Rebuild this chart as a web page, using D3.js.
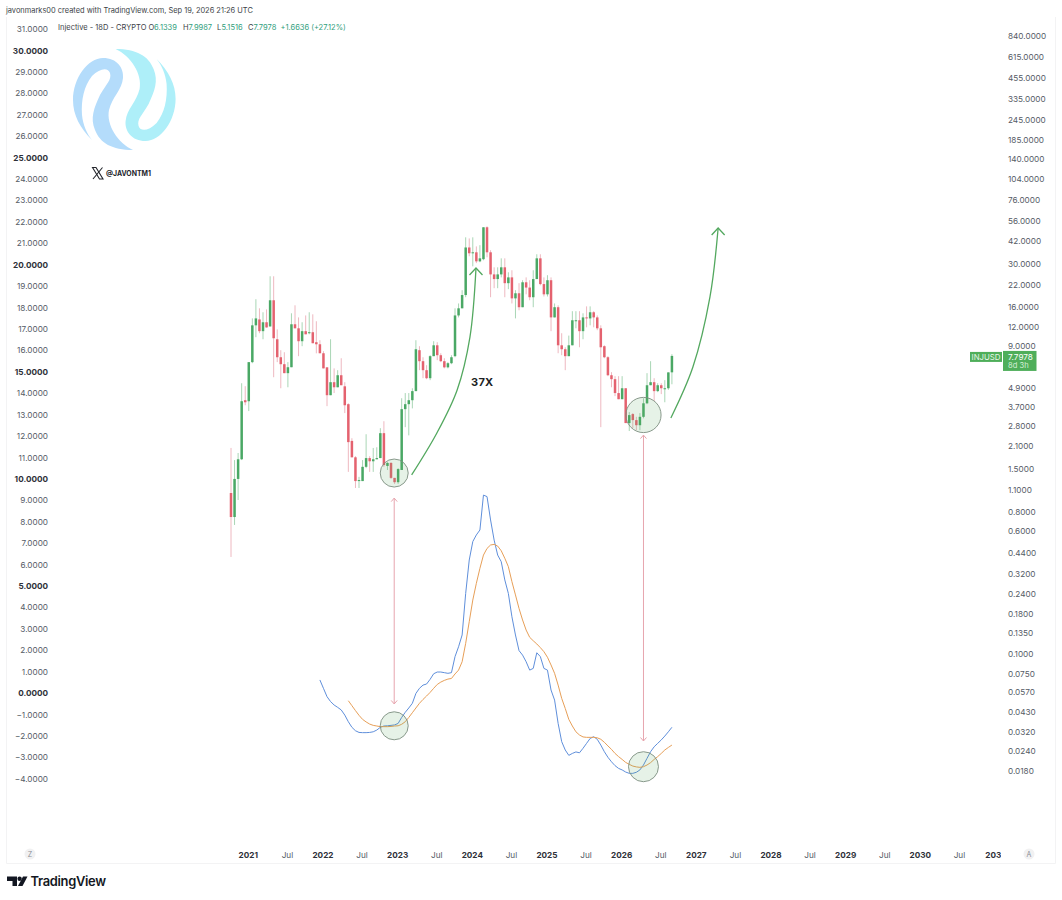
<!DOCTYPE html>
<html>
<head>
<meta charset="utf-8">
<script src="https://cdn.jsdelivr.net/npm/d3@7/dist/d3.min.js"></script>
<style>
html,body{margin:0;padding:0;background:#fff;}
svg{display:block;font-family:Inter,"Noto Sans",sans-serif;}
.axis path,.axis line{display:none;}
</style>
</head>
<body>
<svg id="chart" width="1062" height="900"></svg>
<script>
// ---------- data (18D candles, price in USD) ----------
const barOpen=[1.05,.739,1.29,1.72,4.08,4.02,7.12,12.2,13.3,11.2,12.76,12.0,17.6,9.95,7.65,6.91,6.06,6.61,12.39,11.68,
9.67,11.2,10.87,11.03,9.53,9.25,8.11,6.6,4.39,5.31,4.93,5.88,5.0,3.85,2.25,1.77,1.25,1.25,1.54,1.75,
1.67,1.72,1.75,2.52,1.56,1.63,1.31,1.23,1.47,3.58,3.85,4.08,4.66,8.48,7.22,6.33,5.63,7.77,9.11,7.88,
7.22,6.6,7.01,7.77,14.1,15.65,19.0,38.1,35.0,35.5,31.1,32.1,51.2,35.5,25.7,24.0,25.7,28.5,22.6,24.6,
18.1,19.5,15.9,22.9,21.2,18.4,24.0,32.5,22.3,19.2,23.6,13.7,15.9,9.11,8.6,7.77,9.11,12.95,13.14,11.2,
13.7,13.5,14.77,13.7,11.68,8.99,7.65,5.88,5.55,4.53,4.14,4.86,2.92,3.33,3.05,2.83,3.2,3.9,5.08,5.31,
4.66,5.08,4.8,4.86,6.1339];
const barHigh=[2.03,1.70,1.885,5.23,5.01,7.12,13.5,17.87,15.65,14.77,15.4,25.0,25.0,11.5,8.48,8.23,7.12,14.55,16.35,13.7,
12.76,14.1,14.77,14.33,12.95,9.81,8.36,6.6,9.95,6.5,6.33,7.54,5.31,3.9,2.34,1.8,1.33,1.70,2.48,1.8,
2.03,2.05,2.71,3.0,1.65,1.65,1.31,1.51,4.2,4.53,4.53,4.86,9.81,8.99,7.65,6.81,7.88,9.67,9.53,8.11,
7.54,7.12,7.88,15.65,16.8,20.4,44.2,43.5,44.2,38.7,39.4,51.2,51.9,36.6,28.5,28.5,32.5,32.5,26.5,27.3,
20.4,22.6,23.6,24.6,23.6,27.3,34.5,34.5,24.6,25.4,24.6,16.8,16.35,10.87,8.85,10.5,15.0,15.0,15.0,14.55,
16.1,16.1,15.0,14.1,12.2,9.11,7.77,6.15,5.8,5.8,5.8,4.86,3.43,3.38,3.2,3.38,4.2,6.06,7.22,5.63,
5.23,5.23,5.47,6.13,7.9987];
const barLow=[.412,.658,.948,1.70,3.79,3.48,7.01,10.25,10.87,9.95,11.8,12.0,5.71,7.12,4.86,6.06,4.93,6.61,11.68,7.77,
8.99,10.7,10.7,9.39,8.1,8.11,6.5,3.74,4.39,4.53,4.93,5.08,3.38,1.43,1.77,1.13,1.13,1.25,1.51,1.43,
1.43,1.72,1.75,1.54,1.47,1.29,1.2,1.2,1.47,2.75,2.44,3.62,4.66,6.33,5.63,5.55,5.47,7.77,7.33,7.12,
6.5,6.5,6.91,7.65,13.7,15.65,18.4,33.5,28.9,30.3,30.7,31.6,33.0,18.4,21.0,21.0,24.6,18.4,20.7,16.8,
13.5,15.2,15.9,19.2,17.6,15.9,24.0,21.9,18.6,18.6,11.2,13.7,8.11,7.88,6.33,7.77,9.11,11.68,8.85,9.95,
11.85,12.2,11.85,11.36,2.75,7.54,5.8,4.93,4.33,4.14,4.14,2.92,2.6,2.71,2.63,2.63,3.13,3.85,5.08,4.02,
4.59,4.46,3.96,4.75,5.1516];
const barClose=[.739,1.29,1.72,4.02,3.96,7.12,12.2,13.5,11.2,12.76,11.83,17.6,10.1,7.65,6.91,6.06,6.61,12.39,11.68,9.67,
11.2,10.7,11.03,9.39,9.25,8.11,6.5,4.39,5.31,4.93,5.88,5.08,3.79,2.21,1.77,1.25,1.27,1.54,1.75,1.67,
1.72,1.75,2.52,1.58,1.63,1.31,1.23,1.49,3.58,3.85,4.08,4.66,8.6,7.22,6.33,5.63,7.77,9.11,7.88,7.22,
6.6,7.01,7.65,14.1,15.65,19.0,38.1,35.0,35.5,31.1,32.5,51.2,35.5,25.7,24.0,25.7,28.5,22.6,24.6,18.1,
19.5,15.9,22.9,21.2,18.4,24.0,32.5,22.3,19.2,23.6,13.7,15.9,9.11,8.6,7.77,9.11,13.14,13.14,11.2,13.7,
13.5,14.77,13.7,11.68,8.85,7.65,5.88,5.55,4.53,4.14,4.86,2.92,3.28,3.05,2.83,3.2,3.9,5.08,5.31,4.66,
5.08,4.86,4.86,6.13,7.7978];

// oscillator, read against the left scale; first value sits on bar 25 / bar 33
const blueStartBar=25;
const blueLine=[.61,.22,-.17,-.40,-.56,-.67,-.79,-1.03,-1.34,-1.60,-1.76,-1.84,-1.85,-1.85,-1.84,-1.81,-1.73,-1.60,-1.54,-1.53,
-1.51,-1.49,-1.42,-1.14,-.90,-.70,-.48,-.02,.22,.37,.42,.64,.90,.98,.98,.95,.92,.95,1.70,2.16,
2.71,4.65,6.21,7.07,7.38,7.61,9.24,9.17,8.08,7.14,6.44,6.13,5.28,4.65,3.56,2.71,1.98,1.77,1.46,1.07,
1.15,1.88,1.70,1.15,1.07,.14,-.33,-1.42,-2.27,-2.66,-2.91,-2.82,-2.75,-2.79,-2.58,-2.35,-2.12,-2.04,-2.16,-2.43,
-2.74,-3.00,-3.21,-3.39,-3.52,-3.59,-3.69,-3.75,-3.75,-3.70,-3.59,-3.36,-3.05,-2.74,-2.51,-2.35,-2.19,-2.01,-1.81,-1.60];
const orangeStartBar=33;
const orangeLine=[-.36,-.59,-.82,-1.04,-1.23,-1.35,-1.45,-1.51,-1.54,-1.57,-1.57,-1.57,-1.56,-1.54,-1.53,-1.46,-1.34,-1.14,-.92,-.70,
-.48,-.30,-.14,.03,.22,.40,.51,.59,.65,.68,.89,1.07,1.46,2.32,3.33,4.34,5.12,5.82,6.44,6.75,
6.91,6.94,6.86,6.64,6.29,5.90,5.20,4.58,3.95,3.41,2.94,2.60,2.44,2.29,2.12,1.93,1.67,1.31,.92,.37,
-.25,-.72,-1.23,-1.54,-1.81,-1.96,-2.05,-2.07,-2.07,-2.07,-2.09,-2.16,-2.30,-2.47,-2.63,-2.82,-2.97,-3.10,-3.24,-3.33,
-3.41,-3.45,-3.47,-3.44,-3.36,-3.25,-3.10,-2.97,-2.82,-2.66,-2.54,-2.43];

// axes
const leftTicks=d3.range(-4,32);
const rightTicks=[840,615,455,335,245,185,140,104,76,56,42,30,22,16,12,9,4.9,3.7,2.8,2.1,1.5,1.1,.8,.6,.44,.32,.24,.18,.135,.1,.075,.057,.043,.032,.024,.018];
const yearLabels=["2021","2022","2023","2024","2025","2026","2027","2028","2029","2030","2031"];
const yearBars=[5,26,47,68,89,110,131,152,173,194,215];
const julBars=[16,37,58,79,100,121,142,163,184,205];

// annotations, in [bar, left-scale value]
const circles=[[45.9,10.27,14],[116,12.98,17.6],[45.9,-1.53,14],[116,-3.44,15]];
const pinkArrows=[[45.9,9.10,-.51],[116,12.04,-2.24]];
const greenArrowA=[[50.8,10.18],[57.9,12.14],[63.6,14.15],[67.2,16.62],[68.9,19.84]];
const greenArrowB=[[123.7,12.84],[129.9,15.22],[134.7,18.49],[137,21.71]];
const lastPrice=7.7978;

// ---------- scales ----------
const x=d3.scaleLinear().domain([0,215]).range([231,995.5]);
const yL=d3.scaleLinear().domain([-4,31]).range([778.7,29]);
const yR=d3.scaleLog().domain([.018,840]).range([771,36]);

const svg=d3.select("#chart");
const GREEN="#4aa865",RED="#e4626f",INK="#555b66";

// frame
svg.append("path").attr("d","M6.5 17V863.5H1055.5V17").attr("fill","none").attr("stroke","#f3f3f4");

// header
svg.append("text").attr("x",6).attr("y",13).attr("font-size",7.45).attr("fill","#3c3f47")
  .text("javonmarks00 created with TradingView.com, Sep 19, 2026 21:26 UTC");

const legend=svg.append("text").attr("y",30).attr("font-size",7.5).attr("fill","#3c3f47");
const VAL="#2f9e7c";
[["Injective - 18D - CRYPTO",58,null],["O",148.5,null],["6.1339",154,VAL],["H",183,null],["7.9987",188.5,VAL],
 ["L",217,null],["5.1516",221.5,VAL],["C",248,null],["7.7978",253.5,VAL],["+1.6636 (+27.12%)",280.5,VAL]]
 .forEach(d=>{legend.append("tspan").attr("x",d[1]).attr("fill",d[2]||"#3c3f47").text(d[0]);});

// left axis
const gL=svg.append("g").attr("class","axis").attr("transform","translate(48,0)")
  .call(d3.axisLeft(yL).tickValues(leftTicks).tickSize(0).tickPadding(0)
    .tickFormat(d=>(d<0?"−":"")+Math.abs(d).toFixed(4)));
gL.selectAll("text").attr("font-family","Inter,sans-serif").attr("font-size",8.2)
  .attr("fill",d=>d%5===0?"#2d3038":INK).attr("font-weight",d=>d%5===0?700:400);

// right axis
const gR=svg.append("g").attr("class","axis").attr("transform","translate(1008,0)")
  .call(d3.axisRight(yR).tickValues(rightTicks).tickSize(0).tickPadding(0)
    .tickFormat(d=>d.toFixed(4)));
gR.selectAll("text").attr("font-family","Inter,sans-serif").attr("font-size",8.2).attr("fill",INK);

// time axis
svg.append("clipPath").attr("id","tclip").append("rect").attr("x",0).attr("y",840).attr("width",1001).attr("height",30);
const gT=svg.append("g").attr("clip-path","url(#tclip)");
const gTY=gT.append("g").attr("class","axis").attr("transform","translate(-1,852)")
  .call(d3.axisBottom(x).tickValues(yearBars).tickSize(0).tickPadding(0).tickFormat((d,i)=>yearLabels[i]));
gTY.selectAll("text").attr("font-family","Inter,sans-serif").attr("font-size",8.2).attr("font-weight",700).attr("fill","#2d3038");
const gTJ=gT.append("g").attr("class","axis").attr("transform","translate(-1,852)")
  .call(d3.axisBottom(x).tickValues(julBars).tickSize(0).tickPadding(0).tickFormat(()=> "Jul"));
gTJ.selectAll("text").attr("font-family","Inter,sans-serif").attr("font-size",8.2).attr("fill",INK);

[["Z",30],["A",1029]].forEach(d=>{
  svg.append("circle").attr("cx",d[1]).attr("cy",854).attr("r",5.5).attr("fill","#f1f1f2");
  svg.append("text").attr("x",d[1]).attr("y",856.5).attr("text-anchor","middle").attr("font-size",7).attr("fill","#8a8d94").text(d[0]);
});

// logo
const LOGO="M92 140C80 128 73 115 73 100C73 78 88 58 103 58C117 58 124 68 123 78C122 90 112 97 109 110C106 125 118 143 133 150C112 150 100 143 95 130C90 118 94 108 100 95C106 84 112 80 110 73C108 67 100 68 92 76C84 86 81 100 82 115C83 125 87 134 92 140Z";
svg.append("path").attr("d",LOGO).attr("fill","#b4dcfb");
svg.append("path").attr("d",LOGO).attr("fill","#aeeff9").attr("transform","rotate(180 124.3 99.5)");

// X mark and handle
svg.append("path").attr("d","M92.5 167.5L99.5 179H103L96 167.5Z").attr("fill","none").attr("stroke","#23252b").attr("stroke-width",1.1);
svg.append("path").attr("d","M102.5 167.5L93 179").attr("fill","none").attr("stroke","#23252b").attr("stroke-width",1.1);
svg.append("text").attr("x",106).attr("y",176).attr("font-size",6.9).attr("font-weight",700).attr("fill","#23252b").text("@JAVONTM1");

// candles
const bars=svg.append("g").selectAll("g").data(barClose.map((c,i)=>({i,o:barOpen[i],h:barHigh[i],l:barLow[i],c}))).join("g");
bars.append("line").attr("x1",d=>x(d.i)).attr("x2",d=>x(d.i))
  .attr("y1",d=>yR(d.h)).attr("y2",d=>yR(d.l))
  .attr("stroke",d=>d.c>=d.o?"#a9d6b5":"#eeb8c0").attr("stroke-width",1);
bars.append("rect").attr("x",d=>x(d.i)-1.25).attr("width",2.5)
  .attr("y",d=>Math.min(yR(d.o),yR(d.c)))
  .attr("height",d=>Math.max(1,Math.abs(yR(d.o)-yR(d.c))))
  .attr("fill",d=>d.c>=d.o?GREEN:RED);

// oscillator lines
const line=d3.line().x(d=>x(d[0])).y(d=>yL(d[1]));
svg.append("path").attr("d",line(blueLine.map((v,i)=>[blueStartBar+i,v]))).attr("fill","none").attr("stroke","#5f8fdb").attr("stroke-width",1);
svg.append("path").attr("d",line(orangeLine.map((v,i)=>[orangeStartBar+i,v]))).attr("fill","none").attr("stroke","#e79f58").attr("stroke-width",1);

// circles
svg.append("g").selectAll("circle").data(circles).join("circle")
  .attr("cx",d=>x(d[0])).attr("cy",d=>yL(d[1])).attr("r",d=>d[2])
  .attr("fill","rgba(86,170,96,.15)").attr("stroke","#7d8f80").attr("stroke-width",.9);

// pink double arrows
const pink=svg.append("g").attr("fill","none").attr("stroke","#e7a5ae").attr("stroke-width",1);
pinkArrows.forEach(d=>{
  const px=x(d[0]),a=yL(d[1]),b=yL(d[2]);
  pink.append("path").attr("d",`M${px} ${a}V${b}M${px-3} ${a+3.5}L${px} ${a}L${px+3} ${a+3.5}M${px-3} ${b-3.5}L${px} ${b}L${px+3} ${b-3.5}`);
});

// green curved arrows
const curve=d3.line().x(d=>x(d[0])).y(d=>yL(d[1])).curve(d3.curveCatmullRom);
[greenArrowA,greenArrowB].forEach(pts=>{
  svg.append("path").attr("d",curve(pts)).attr("fill","none").attr("stroke","#53a85f").attr("stroke-width",1.3);
  const t=pts[pts.length-1],px=x(t[0]),py=yL(t[1]);
  svg.append("path").attr("d",`M${px-6.5} ${py+7}L${px} ${py}L${px+6.5} ${py+7}`).attr("fill","none").attr("stroke","#53a85f").attr("stroke-width",1.3);
});

svg.append("text").attr("x",471).attr("y",386).attr("font-size",11).attr("font-weight",700).attr("letter-spacing",.3).attr("fill","#1d1f25").text("37X");

// price badge
const by=yR(lastPrice);
svg.append("rect").attr("x",970).attr("y",by-4).attr("width",32).attr("height",10).attr("fill","#4fae5a");
svg.append("rect").attr("x",1003).attr("y",by-5).attr("width",33.5).attr("height",20).attr("fill","#4fae5a");
svg.append("text").attr("x",986).attr("y",by+3.8).attr("text-anchor","middle").attr("font-size",7.8).attr("fill","#e6f5e8").text("INJUSD");
svg.append("text").attr("x",1008).attr("y",by+3.8).attr("font-size",8.2).attr("fill","#fff").text(lastPrice.toFixed(4));
svg.append("text").attr("x",1008).attr("y",by+12.5).attr("font-size",7.6).attr("fill","#d5eed8").text("8d 3h");

// TradingView mark
svg.append("path").attr("d","M7 876.5H17V886H12.5V881H7Z").attr("fill","#131722");
svg.append("circle").attr("cx",19.6).attr("cy",878.8).attr("r",2.2).attr("fill","#131722");
svg.append("path").attr("d","M23 876.5H27.5L22.5 886H18Z").attr("fill","#131722");
svg.append("text").attr("x",30.5).attr("y",886).attr("font-size",12.9).attr("font-weight",600).attr("letter-spacing",-.3).attr("fill","#131722").text("TradingView");
</script>
</body>
</html>
